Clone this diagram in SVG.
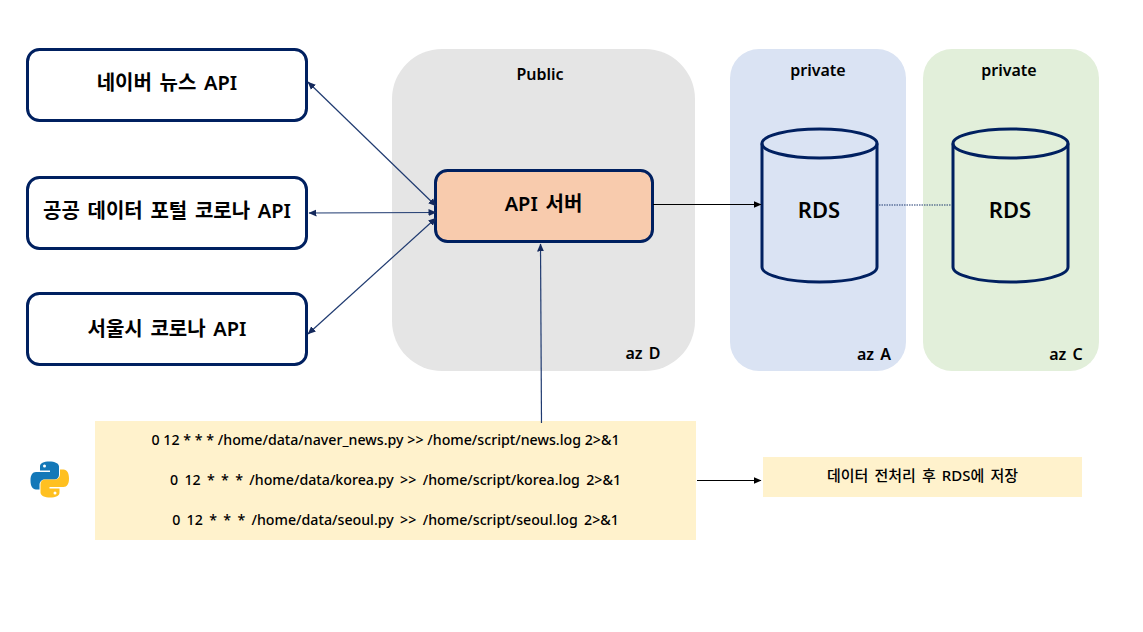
<svg xmlns="http://www.w3.org/2000/svg" width="1143" height="632" viewBox="0 0 1143 632">
<style>
text{font-family:"Noto Sans","Noto Sans CJK KR",sans-serif;fill:#000;text-anchor:middle}
.api{font-size:20px;font-weight:600;word-spacing:2.500px}
.zone{font-size:16px;font-weight:600;word-spacing:2px}
.rds{font-size:22px;font-weight:600}
.cron{font-size:14.200px;font-weight:500;word-spacing:2.650px}
.cron1{word-spacing:0.050px}
.store{font-size:15px;font-weight:500;word-spacing:2.200px}
.box{fill:#fff;stroke:#002060;stroke-width:3}
.cyl{fill:none;stroke:#002060;stroke-width:3}
.c{fill:none;stroke:#1f3a70;stroke-width:1.2}
</style>
<defs>
<marker id="an" viewBox="0 0 8 8" refX="7.500" refY="4" markerWidth="8" markerHeight="8" markerUnits="userSpaceOnUse" orient="auto-start-reverse"><path d="M0 0.500L8 4L0 7.500z" fill="#14295c"/></marker>
<marker id="ak" viewBox="0 0 8 8" refX="7.500" refY="4" markerWidth="8" markerHeight="8" markerUnits="userSpaceOnUse" orient="auto"><path d="M0 0.500L8 4L0 7.500z" fill="#000"/></marker>
</defs>
<rect width="1143" height="632" fill="#fff"/>
<g id="zone-public"><rect x="392" y="49" width="303" height="322" rx="50" fill="#e5e5e5"/><text class="zone" x="540" y="80">Public</text><text class="zone" x="643" y="359">az D</text></g>
<g id="zone-private-a"><rect x="730" y="49" width="176" height="322" rx="29" fill="#dae3f3"/><text class="zone" x="818" y="76">private</text><text class="zone" x="874" y="360">az A</text></g>
<g id="zone-private-c"><rect x="923" y="49" width="176" height="322" rx="29" fill="#e2efda"/><text class="zone" x="1009" y="76">private</text><text class="zone" x="1066" y="360">az C</text></g>
<g id="naver"><rect class="box" x="27.500" y="49.500" width="279" height="71" rx="12"/><text class="api" x="167" y="90">네이버 뉴스 API</text></g>
<g id="data-portal"><rect class="box" x="27.500" y="177.500" width="279" height="71" rx="12"/><text class="api" x="167" y="218">공공 데이터 포털 코로나 API</text></g>
<g id="seoul"><rect class="box" x="27.500" y="293.500" width="279" height="71" rx="12"/><text class="api" x="167" y="336">서울시 코로나 API</text></g>
<g id="api-server"><rect x="435.500" y="170.500" width="217" height="71" rx="12" fill="#f8cbad" stroke="#002060" stroke-width="3"/><text class="api" x="543.500" y="211">API 서버</text></g>
<g id="rds-a"><path class="cyl" d="M762 143.500V267A57.500 15 0 0 0 877 267V143.500"/><ellipse class="cyl" cx="819.500" cy="143.500" rx="57.500" ry="14.500"/><text class="rds" x="819" y="218">RDS</text></g>
<g id="rds-c"><path class="cyl" d="M953 143.500V267A57.500 15 0 0 0 1068 267V143.500"/><ellipse class="cyl" cx="1010.500" cy="143.500" rx="57.500" ry="14.500"/><text class="rds" x="1010" y="218">RDS</text></g>
<g id="cron"><rect x="95" y="421" width="601" height="119" fill="#fff2cc"/><text class="cron cron1" x="385.500" y="444.500">0 12 * * * /home/data/naver_news.py &gt;&gt; /home/script/news.log 2&gt;&amp;1</text><text class="cron" x="395.500" y="484.500">0 12 * * * /home/data/korea.py &gt;&gt; /home/script/korea.log 2&gt;&amp;1</text><text class="cron" x="395.500" y="524.500">0 12 * * * /home/data/seoul.py &gt;&gt; /home/script/seoul.log 2&gt;&amp;1</text></g>
<g id="store"><rect x="763" y="457" width="319" height="40" fill="#fff2cc"/><text class="store" x="922.500" y="481">데이터 전처리 후 RDS에 저장</text></g>
<g id="python-logo">
<path d="M49.500 461.500c-6 0-9.500 1.500-9.500 5v4h10v1.500h-14c-3.500 0-5.500 3-5.500 8.500s2 9 5.500 9h3.500v-4.500c0-3.500 2.500-5.500 5.500-5.500h9.500c2.500 0 4.500-2 4.500-4.500v-8.500c0-3-4-5-10-5z" fill="#1478b8"/>
<circle cx="44.500" cy="466" r="1.500" fill="#fff"/>
<path d="M50 497.500c6 0 9.500-1.500 9.500-5v-4h-10v-1.500h14c3.500 0 5.500-3 5.500-8.500s-2-9-5.500-9h-3.500v4.500c0 3.500-2.500 5.500-5.500 5.500h-9.500c-2.500 0-4.500 2-4.500 4.500v8.500c0 3 4 5 10 5z" fill="#ffc020"/>
<circle cx="55" cy="493" r="1.500" fill="#fff"/>
</g>
<g id="connectors">
<path class="c" d="M308 82L436 206" marker-start="url(#an)" marker-end="url(#an)"/>
<path class="c" d="M309 213L436 212.500" marker-start="url(#an)" marker-end="url(#an)"/>
<path class="c" d="M308 334L436 218" marker-start="url(#an)" marker-end="url(#an)"/>
<path class="c" d="M541.500 423L540.500 244" marker-end="url(#an)"/>
<path d="M653 204.500H761" fill="none" stroke="#000" stroke-width="1.200" marker-end="url(#ak)"/>
<path d="M879 205H951" fill="none" stroke="#1f3a70" stroke-width="1.200" stroke-dasharray="1.500 1"/>
<path d="M697 480.500H761" fill="none" stroke="#000" stroke-width="1.200" marker-end="url(#ak)"/>
</g>
</svg>
